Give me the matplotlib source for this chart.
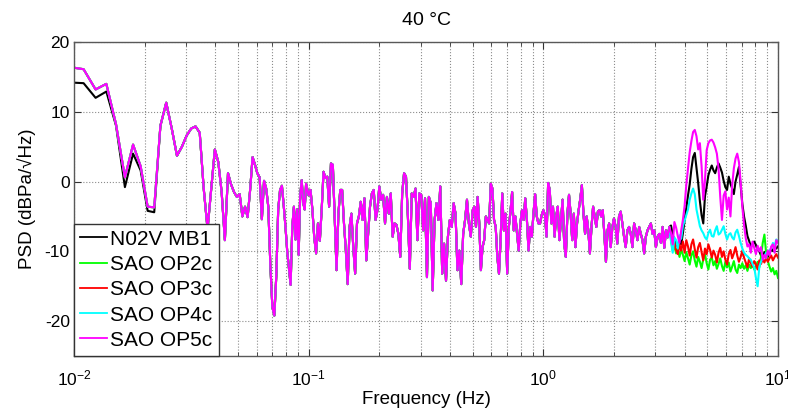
import numpy as np
import matplotlib
matplotlib.use("Agg")
import matplotlib.pyplot as plt
from matplotlib.ticker import LogLocator, NullFormatter, LogFormatterSciNotation, FixedLocator

plt.rcParams["font.family"] = ["Liberation Sans", "DejaVu Sans"]
plt.rcParams["mathtext.fontset"] = "custom"
plt.rcParams["mathtext.rm"] = "Liberation Sans"
plt.rcParams["mathtext.default"] = "regular"
plt.rcParams["axes.unicode_minus"] = False

# --- data ------------------------------------------------------------------
DF = 0.0013733  # PSD frequency resolution (Hz)
freq_low = np.arange(7, 72) * DF  # 0.0096 .. 0.0975 Hz, one value per bin

# below 0.1 Hz the four SAO sensors coincide
psd_low_sao = [
    16.4, 16.1, 13.2, 14.0, 8.2, 0.6, 5.3, 2.2, -3.6, -3.7,
    8.0, 11.3, 7.6, 3.7, 5.0, 6.6, 7.6, 7.9, 7.0, -1.0,
    -6.8, -1.0, 4.6, 2.8, -1.5, -8.4, 1.2, -0.4, -1.5, -2.2,
    -1.8, -5.0, -3.6, -5.1, -1.2, 3.5, 2.4, 1.2, 0.6, -5.4,
    0.1, -1.0, -3.6, -12.0, -18.0, -19.2, -13.5, -4.0, -1.2, -0.6,
    -3.4, -6.5, -10.0, -12.5, -14.8, -6.5, -3.6, -8.3, -4.0, -10.5,
    -2.0, 0.2, -3.0, -4.0, -0.3,
]
# reference microphone differs only in the first bins
psd_low_mb1_head = [14.2, 14.1, 12.0, 12.9, 8.0, -0.8, 4.0, 1.6, -4.2, -4.4]

# 0.1 .. 3.5 Hz: all sensors overlap (dense band)
mid_edges = [0.1, 0.2, 0.5, 1.0, 2.0, 3.5]
psd_mid_1 = [
    -2.0, -1.2, -4.0, -8.0, -10.3, -6.0, -8.5, -4.0, 1.4, 0.5,
    0.7, -3.6, 2.6, 2.4, -5.0, -12.7, -4.6, -1.2, -1.2, -6.0,
    -9.9, -14.7, -6.5, -4.6, -9.4, -13.2, -6.0, -5.0, -2.9, -5.5,
    -2.4, -11.3, -7.5, -3.6, -1.7, -1.2, -5.5, -4.1,
]
psd_mid_2 = [
    -0.7, -2.6, -1.9, -6.0, -2.2, -4.6, -1.7, -7.9, -6.0, -6.2,
    -7.5, -10.8, -1.7, 1.2, 0.7, -5.0, -12.5, -1.7, -2.2, -1.0,
    -8.4, -1.7, -1.9, -7.0, -2.4, -13.7, -2.2, -3.1, -15.6, -5.5,
    -3.1, -5.5, -0.7, -13.2, -8.9, -14.2, -7.9, -5.5, -6.5, -3.1,
    -4.6, -12.7, -9.9, -14.7, -7.5, -5.5, -2.6, -6.0, -7.9,
]
psd_mid_3 = [
    -4.1, -3.6, -6.5, -2.2, -6.0, -12.7, -9.4, -8.4, -5.0, -5.5,
    -6.0, -0.3, -1.0, -5.5, -6.5, -10.8, -13.2, -8.4, -1.7, -7.0,
    -4.6, -13.2, -6.5, -4.3, -1.5, -7.0, -5.0, -7.5, -9.9, -6.0,
    -4.1, -5.5, -2.4, -5.5, -9.9, -6.5, -7.9, -4.6, -1.8, -5.0,
    -6.0, -6.0, -4.8,
]
psd_mid_4 = [
    -4.1, -4.8, -7.9, -0.2, -1.2, -6.0, -3.6, -7.9, -5.0, -3.6,
    -8.4, -5.5, -2.6, -8.9, -10.8, -4.6, -1.9, -4.6, -8.4, -4.6,
    -9.4, -6.0, -4.1, -2.5, -0.5, -4.6, -7.5, -5.0, -7.0, -10.3,
    -6.5, -3.6, -5.0, -6.5, -4.3, -4.1, -5.0, -4.1, -7.5, -11.5,
    -7.0, -6.0, -9.4, -6.5,
]
psd_mid_5 = [
    -5.3, -6.5, -8.9, -5.0, -4.3, -6.0, -7.9, -9.4, -7.0, -6.5,
    -7.5, -9.4, -6.0, -7.0, -8.4, -6.5, -7.5, -8.4, -10.3, -7.9,
    -7.0, -6.5, -6.0, -7.5, -7.0, -9.4, -7.9, -7.5, -8.8, -6.5,
    -9.5, -7.0, -8.0, -6.5,
]
psd_mid = [psd_mid_1, psd_mid_2, psd_mid_3, psd_mid_4, psd_mid_5]

# 3.5 .. 10 Hz: sensors diverge
freq_high = np.geomspace(3.5, 10.0, 64)
psd_high_mb1 = [
    -6.3, -7.6, -8.4, -9.0, -9.3, -8.6, -9.0, -7.4,
    -5.6, -3.8, -2.0, -0.4, 1.8, 3.5, 4.1, 1.9,
    -0.2, -2.8, -4.8, -6.0, -2.1, -0.7, 0.9, 1.7,
    2.3, 1.6, 1.2, 2.0, 2.6, 2.0, 1.3, 0.1,
    -0.8, -1.2, 0.7, -0.3, -1.0, -1.8, 0.0, 1.0,
    2.1, -0.5, -3.2, -5.0, -6.3, -7.8, -8.5, -9.3,
    -9.0, -8.6, -9.1, -9.7, -10.0, -10.6, -10.9, -10.1,
    -10.4, -10.8, -10.3, -9.7, -9.9, -9.2, -9.6, -9.3,
]
psd_high_op2c = [
    -8.3, -9.9, -9.2, -10.3, -9.6, -10.8, -9.7, -10.5,
    -11.4, -10.1, -11.0, -11.9, -10.6, -10.0, -11.3, -12.2,
    -10.8, -11.5, -12.4, -11.1, -10.4, -11.7, -12.6, -11.2,
    -10.9, -12.0, -11.4, -12.5, -11.8, -11.0, -12.1, -12.8,
    -11.5, -12.3, -11.6, -12.9, -12.2, -11.4, -12.6, -13.1,
    -11.9, -12.4, -11.7, -12.5, -12.0, -12.8, -11.9, -12.4,
    -11.8, -12.6, -12.1, -11.5, -12.3, -10.8, -8.8, -7.6,
    -10.2, -11.4, -12.2, -12.9, -12.4, -13.3, -12.8, -13.8,
]
psd_high_op3c = [
    -8.0, -9.6, -8.8, -9.8, -10.4, -9.0, -9.9, -8.6,
    -10.2, -8.4, -9.3, -10.6, -9.0, -8.3, -9.7, -10.9,
    -9.4, -8.8, -10.1, -11.3, -9.6, -10.4, -9.0, -9.8,
    -10.9, -9.9, -10.5, -11.6, -10.2, -9.5, -10.8, -10.0,
    -11.2, -11.9, -10.4, -9.8, -11.0, -10.3, -9.4, -10.6,
    -11.5, -10.8, -9.9, -10.9, -11.6, -12.3, -11.0, -11.7,
    -12.2, -11.4, -11.9, -12.6, -11.3, -11.8, -11.1, -11.6,
    -10.9, -11.5, -11.0, -10.6, -11.3, -10.8, -10.4, -10.9,
]
psd_high_op4c = [
    -8.6, -10.2, -8.0, -8.4, -9.6, -7.7, -8.2, -6.4,
    -5.6, -4.8, -4.0, -2.6, -1.7, -1.0, -1.8, -4.0,
    -5.2, -6.4, -7.0, -7.4, -8.0, -8.3, -7.4, -6.9,
    -7.8, -7.9, -7.0, -6.4, -7.6, -7.4, -6.9, -6.4,
    -7.5, -8.3, -7.6, -7.4, -8.0, -8.3, -7.3, -6.9,
    -7.8, -8.8, -9.6, -10.2, -10.5, -10.7, -11.0, -11.2,
    -11.8, -12.3, -13.8, -15.0, -12.2, -11.5, -10.9, -10.7,
    -10.2, -10.4, -9.8, -9.6, -8.8, -9.2, -8.3, -8.6,
]
psd_high_op5c = [
    -7.4, -9.0, -5.8, -6.6, -7.8, -8.8, -7.0, -5.5,
    -3.5, -0.5, 1.8, 4.2, 5.8, 7.1, 7.4, 6.5,
    4.6, 5.5, 2.2, -2.6, 0.2, 4.5, 5.5, 5.9,
    6.0, 5.6, 4.9, 4.0, 1.8, -2.2, -5.5, -2.0,
    -1.4, -4.0, -2.3, -5.0, -0.6, 1.9, 3.3, 4.0,
    2.8, -0.1, -3.6, -6.2, -8.1, -9.3, -9.0, -10.2,
    -8.6, -9.5, -10.4, -9.2, -10.0, -9.4, -11.2, -10.5,
    -11.0, -9.9, -10.6, -9.3, -9.0, -10.2, -8.4, -8.8,
]

labels = ["N02V MB1", "SAO OP2c", "SAO OP3c", "SAO OP4c", "SAO OP5c"]
colors = ["k", "#00ff00", "#ff0000", "#00ffff", "#ff00ff"]
high_parts = [psd_high_mb1, psd_high_op2c, psd_high_op3c, psd_high_op4c, psd_high_op5c]

# --- assemble series --------------------------------------------------------
freq_mid = np.concatenate([
    np.geomspace(a, b, len(v), endpoint=False)
    for a, b, v in zip(mid_edges[:-1], mid_edges[1:], psd_mid)
])
freq = np.concatenate([freq_low, freq_mid, freq_high])
mid_vals = np.concatenate(psd_mid)

series = []
for i, hi in enumerate(high_parts):
    low = list(psd_low_sao)
    if i == 0:
        low[:len(psd_low_mb1_head)] = psd_low_mb1_head
    series.append(np.concatenate([low, mid_vals, hi]))

# --- plot -------------------------------------------------------------------
fig = plt.figure(figsize=(7.88, 4.11), dpi=100)
ax = fig.add_axes([74 / 788, 55 / 411, 704 / 788, 314 / 411])

for y, c, lab in zip(series, colors, labels):
    ax.plot(freq, y, color=c, lw=1.5, label=lab)

ax.set_xscale("log")
ax.set_xlim(0.01, 10)
ax.set_ylim(-25, 20)
ax.yaxis.set_major_locator(FixedLocator([-20, -10, 0, 10, 20]))
ax.xaxis.set_major_locator(LogLocator(base=10, numticks=10))
ax.xaxis.set_major_formatter(LogFormatterSciNotation())
ax.xaxis.set_minor_locator(LogLocator(base=10, subs=np.arange(2, 10), numticks=20))
ax.xaxis.set_minor_formatter(NullFormatter())

ax.grid(True, which="major", ls=":", color="0.55", lw=0.8)
ax.grid(True, which="minor", axis="x", ls=":", color="0.55", lw=0.8)
ax.tick_params(which="both", direction="in", top=True, right=True,
               labelsize=12.5, color="0.2")
ax.tick_params(which="major", length=5, pad=3)
ax.tick_params(which="minor", length=3)
ax.tick_params(axis="x", which="major", pad=9)
for sp in ax.spines.values():
    sp.set_color("0.35")
    sp.set_linewidth(1.0)

ax.set_xlabel("Frequency (Hz)", fontsize=13.5, labelpad=2)
ax.set_ylabel("PSD (dBPa/\u221aHz)", fontsize=13.5, labelpad=6)
ax.set_title("40 \u00b0C", fontsize=14, pad=12)

leg = ax.legend(loc="lower left", bbox_to_anchor=(0, 0), borderaxespad=0,
                fontsize=15, fancybox=False, framealpha=1, edgecolor="0.2",
                handlelength=1.3, handletextpad=0.15, labelspacing=0.3,
                borderpad=0.3)
leg.get_frame().set_linewidth(1.0)
for h in leg.get_lines():
    h.set_linewidth(1.3)

fig.savefig("out.png", dpi=100)
